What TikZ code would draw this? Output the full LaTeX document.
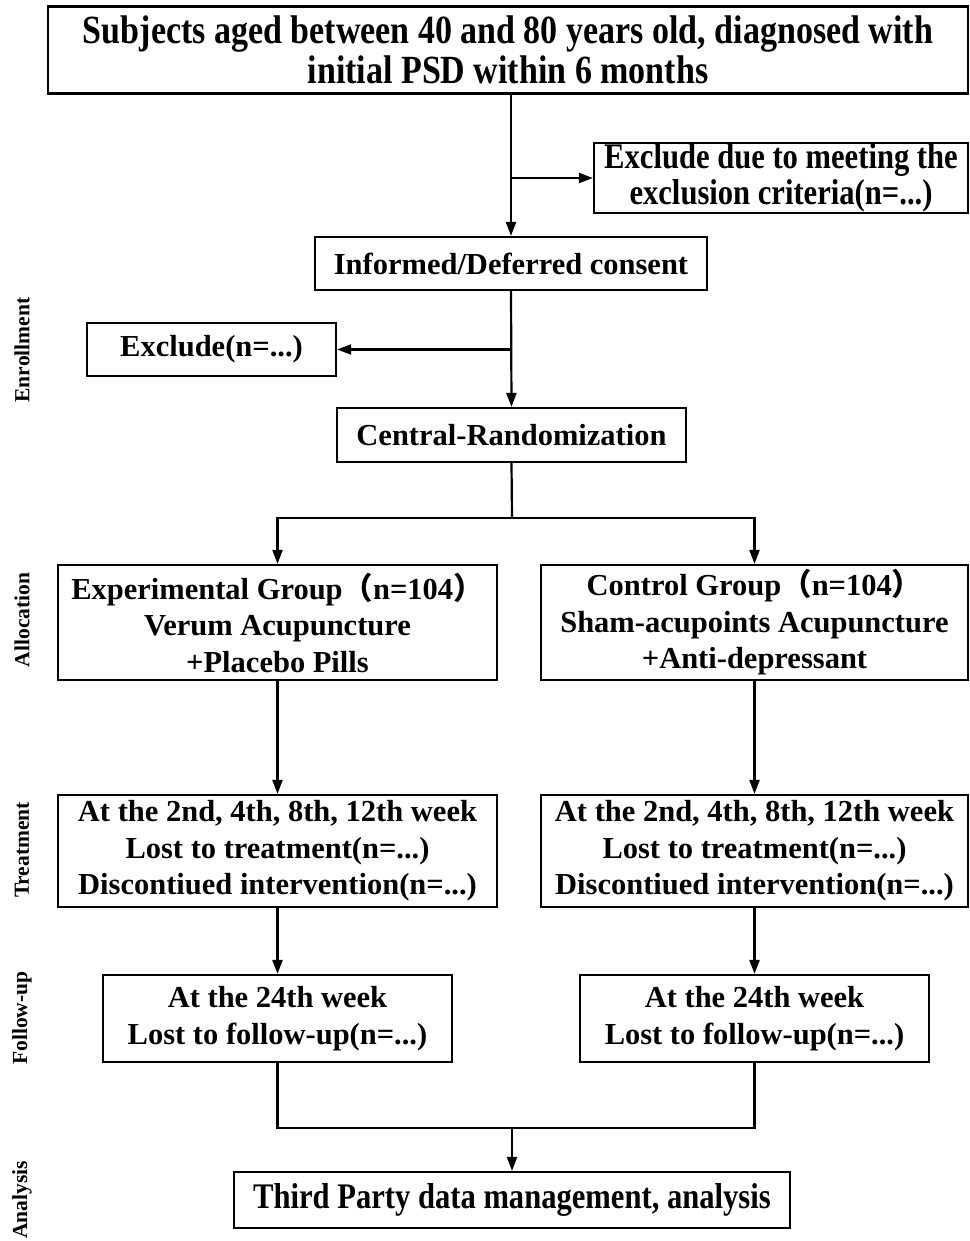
\documentclass[tikz,border=0pt]{standalone}
\usepackage{fontspec}
\setmainfont{Liberation Serif}
\newfontfamily\condfont[FakeStretch=0.85]{Liberation Serif}
\newfontfamily\cjk{Noto Sans CJK SC}
\usetikzlibrary{arrows.meta}
\begin{document}
\begin{tikzpicture}[x=1pt,y=-1pt,
  box/.style={draw, line width=2.2pt, inner sep=0pt, align=center,
    font=\bfseries\fontsize{30.5}{36.5}\selectfont},
  cbox/.style={box, font=\condfont\bfseries\fontsize{36}{36.5}\selectfont},
  arr/.style={line width=2.2pt, -{Triangle[length=14pt,width=10pt]}},
  ln/.style={line width=2.2pt},
  side/.style={rotate=90, inner sep=0pt, font=\bfseries\fontsize{21.5}{24}\selectfont}]
\useasboundingbox (0,0) rectangle (969,1241);
\fill[white] (0,0) rectangle (969,1241);

\node[cbox, minimum width=920pt, minimum height=87pt, font=\condfont\bfseries\fontsize{40}{40.5}\selectfont] (top) at (508,50)
  {Subjects aged between 40 and 80 years old, diagnosed with\\initial PSD within 6 months};
\node[cbox, minimum width=374pt, minimum height=70pt] (excl1) at (781,178)
  {Exclude due to meeting the\\exclusion criteria(n=...)};
\node[box, minimum width=392pt, minimum height=53pt] (inf) at (511,263.5) {Informed/Deferred consent};
\node[box, minimum width=249pt, minimum height=53pt] (excl2) at (211.5,349.5) {Exclude(n=...)};
\node[box, minimum width=349pt, minimum height=54pt] (cent) at (511.5,435) {Central-Randomization};
\node[box, minimum width=439pt, minimum height=115pt] (exp) at (277.5,622.5)
  {Experimental Group{\cjk （}n=104{\cjk ）}\\Verum Acupuncture\\+Placebo Pills};
\node[box, minimum width=427pt, minimum height=115pt] (ctl) at (754.5,622.5)
  {Control Group{\cjk （}n=104{\cjk ）}\\Sham-acupoints Acupuncture\\+Anti-depressant};
\node[box, minimum width=439pt, minimum height=112pt] (tr1) at (277.5,851)
  {At the 2nd, 4th, 8th, 12th week\\Lost to treatment(n=...)\\Discontiued intervention(n=...)};
\node[box, minimum width=427pt, minimum height=112pt] (tr2) at (754.5,851)
  {At the 2nd, 4th, 8th, 12th week\\Lost to treatment(n=...)\\Discontiued intervention(n=...)};
\node[box, minimum width=349pt, minimum height=87pt] (fu1) at (277.5,1018.5)
  {At the 24th week\\Lost to follow-up(n=...)};
\node[box, minimum width=349pt, minimum height=87pt] (fu2) at (754.5,1018.5)
  {At the 24th week\\Lost to follow-up(n=...)};
\node[cbox, minimum width=556pt, minimum height=56pt] (tp) at (512,1200)
  {Third Party data management, analysis};

\node[side] (l1) at (22,350) {Enrollment};
\node[side] (l2) at (22,620) {Allocation};
\node[side] (l3) at (22,850) {Treatment};
\node[side] (l4) at (22,1018) {Follow-up};
\node[side] (l5) at (22,1200) {Analysis};

\draw[arr] (top.south -| inf.north) -- (inf.north);
\draw[arr] (inf.north |- excl1.west) -- (excl1.west);
\draw[arr] (inf.south) -- (cent.north);
\draw[arr] (inf.south |- excl2.east) -- (excl2.east);
\coordinate (split) at (512,518);
\draw[ln] (cent.south) -- (split);
\draw[arr] (split) -| (exp.north);
\draw[arr] (split) -| (ctl.north);
\draw[arr] (exp.south) -- (tr1.north);
\draw[arr] (ctl.south) -- (tr2.north);
\draw[arr] (tr1.south) -- (fu1.north);
\draw[arr] (tr2.south) -- (fu2.north);
\coordinate (merge) at (512,1128);
\draw[ln] (fu1.south) |- (merge) -| (fu2.south);
\draw[arr] (merge) -- (tp.north);
\end{tikzpicture}
\end{document}
